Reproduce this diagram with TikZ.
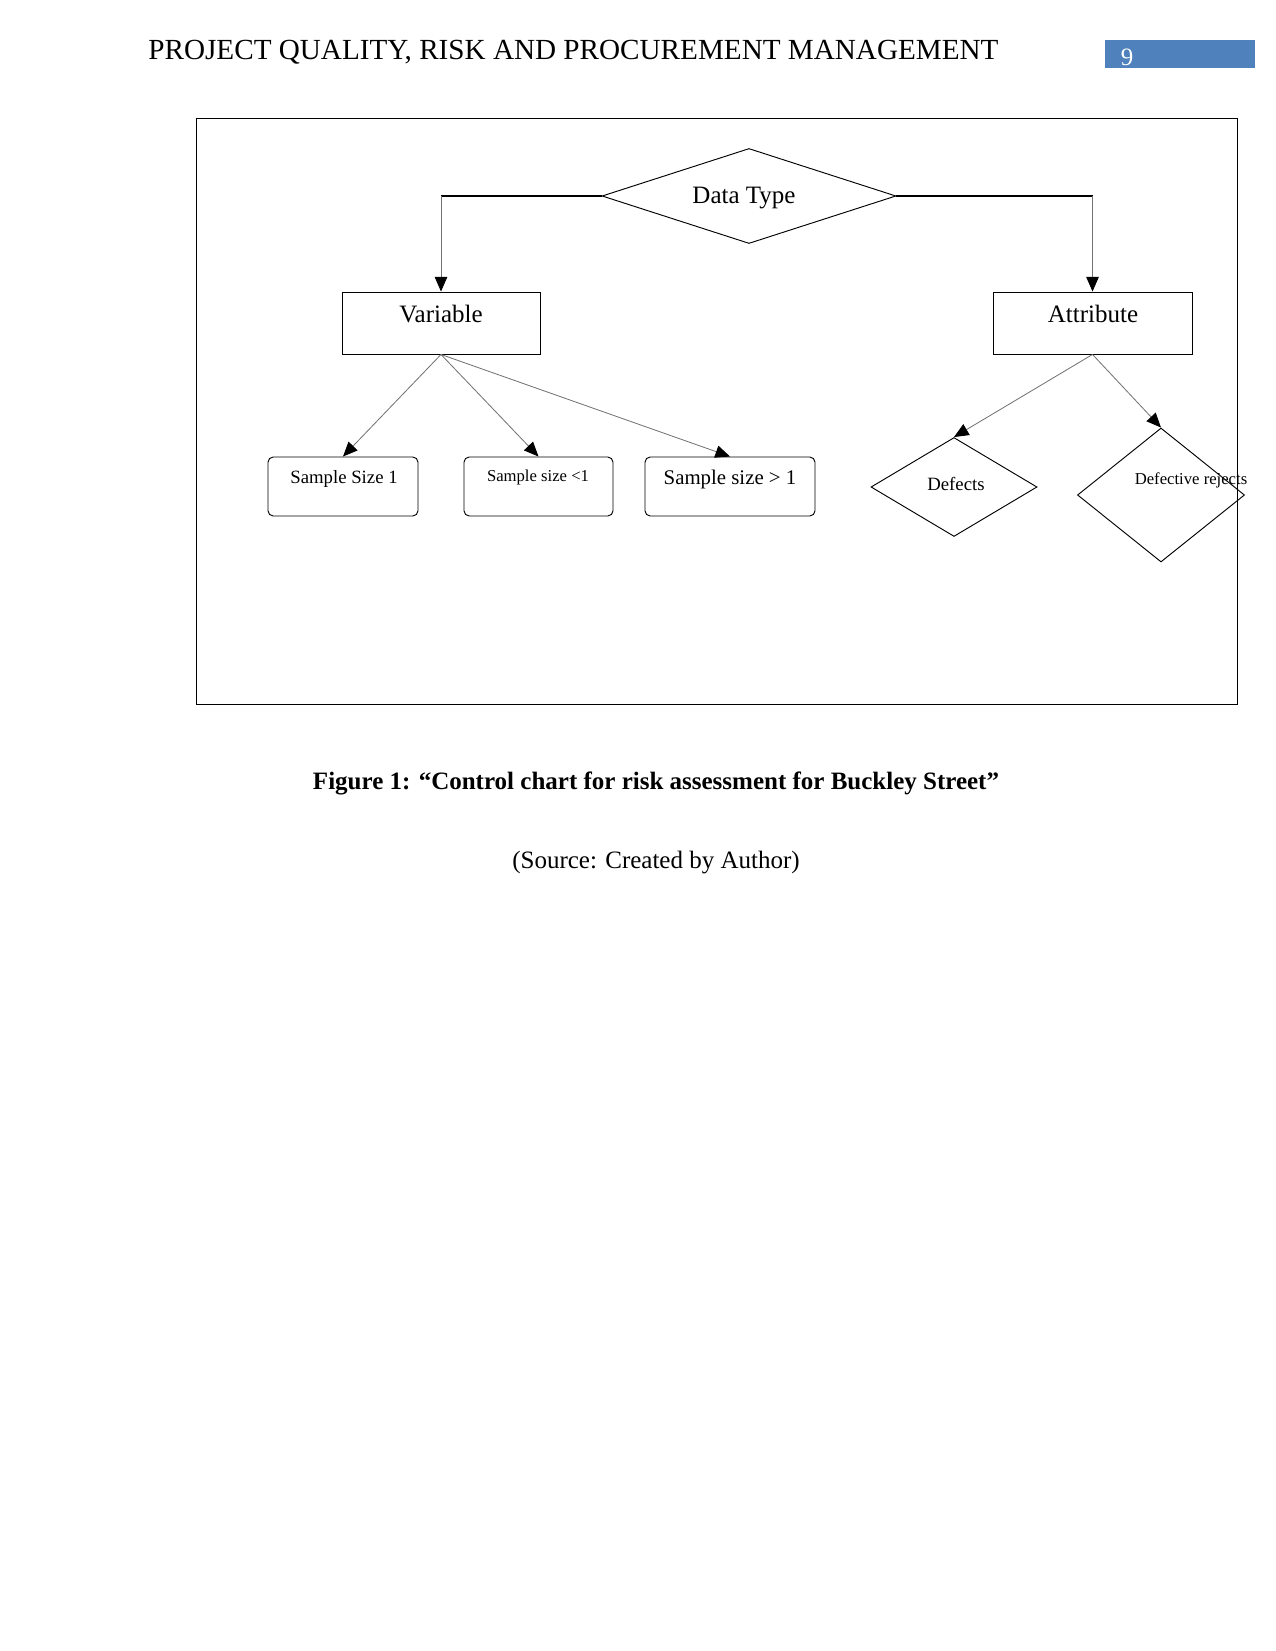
\documentclass[tikz,border=0pt]{standalone}
\usepackage{fontspec}
\setmainfont{Liberation Serif}
\usetikzlibrary{shapes.geometric,arrows.meta,fit,calc}
\definecolor{pgblue}{RGB}{79,129,189}
\tikzset{
  boxline/.style={draw, line width=0.45pt, inner sep=0pt},
  rbox/.style={draw, line width=0.45pt, rounded corners=2.5pt, inner sep=0pt},
  dia/.style={draw, diamond, inner sep=0pt, line width=0.45pt},
  conn/.style={draw=black!55, line width=0.4pt, -{Triangle[length=7pt,width=6pt,color=black]}},
  hconn/.style={draw=black, line width=0.6pt},
  txt/.style={inner sep=0pt, yshift=-1.3pt, font=\fontsize{12}{14}\selectfont},
}
\begin{document}
\begin{tikzpicture}[x=0.48pt,y=-0.48pt]
\useasboundingbox (0,0) rectangle (1275,1651);
% header
\node[txt, anchor=west, font=\fontsize{14}{16}\selectfont] (hdr) at (148,50) {PROJECT QUALITY, RISK AND PROCUREMENT MANAGEMENT};
\node[fill=pgblue, inner sep=0pt, fit={(1105,40) (1255,68)}] (pgbox) {};
\node[txt, text=white] (pgnum) at (1127,55) {9};
% frame
\node[boxline, fit={(196,118) (1237,704)}] (frame) {};
% data type
\node[dia, minimum width=141.1pt, minimum height=45.6pt] (dt) at (749,196) {};
\node[txt] (dtt) at (744,195) {Data Type};
% variable / attribute
\node[boxline, fit={(342,292) (540,354)}] (var) {};
\node[txt] (vart) at (441,311) {Variable};
\node[boxline, fit={(993,292) (1192,354)}] (att) {};
\node[txt] (attt) at (1093,311) {Attribute};
% samples
\node[rbox, fit={(268,457) (418,516)}] (s1) {};
\node[txt, font=\fontsize{9}{11}\selectfont] (s1t) at (344,476) {Sample Size 1};
\node[rbox, fit={(464,457) (613,516)}] (s2) {};
\node[txt, font=\fontsize{8}{10}\selectfont] (s2t) at (538,475) {Sample size <1};
\node[rbox, fit={(645,457) (815,516)}] (s3) {};
\node[txt, font=\fontsize{10}{12}\selectfont] (s3t) at (730,477) {Sample size > 1};
% attribute diamonds
\node[dia, minimum width=79.7pt, minimum height=47.5pt] (def) at (954,487) {};
\node[txt, font=\fontsize{9}{11}\selectfont] (deft) at (956,481) {Defects};
\node[dia, minimum width=80.2pt, minimum height=64.3pt] (rej) at (1161,495) {};
\node[txt, font=\fontsize{8}{10}\selectfont] (rejt) at (1191,478) {Defective rejects};
% connectors
\draw[hconn] (dt.west) -- (dt.west -| var.north);
\draw[conn] (dt.west -| var.north) -- (var.north);
\draw[hconn] (dt.east) -- (dt.east -| att.north);
\draw[conn] (dt.east -| att.north) -- (att.north);
\draw[conn] (var.south) -- (s1.north);
\draw[conn] (var.south) -- (s2.north);
\draw[conn] (var.south) -- (s3.north);
\draw[conn] (att.south) -- (def.north);
\draw[conn] (att.south) -- (rej.north);
% caption
\node[txt, font=\fontsize{12}{14}\selectfont\bfseries] (cap) at (656,781) {Figure 1: “Control chart for risk assessment for Buckley Street”};
\node[txt] (src) at (656,860) {(Source: Created by Author)};
\end{tikzpicture}
\end{document}
